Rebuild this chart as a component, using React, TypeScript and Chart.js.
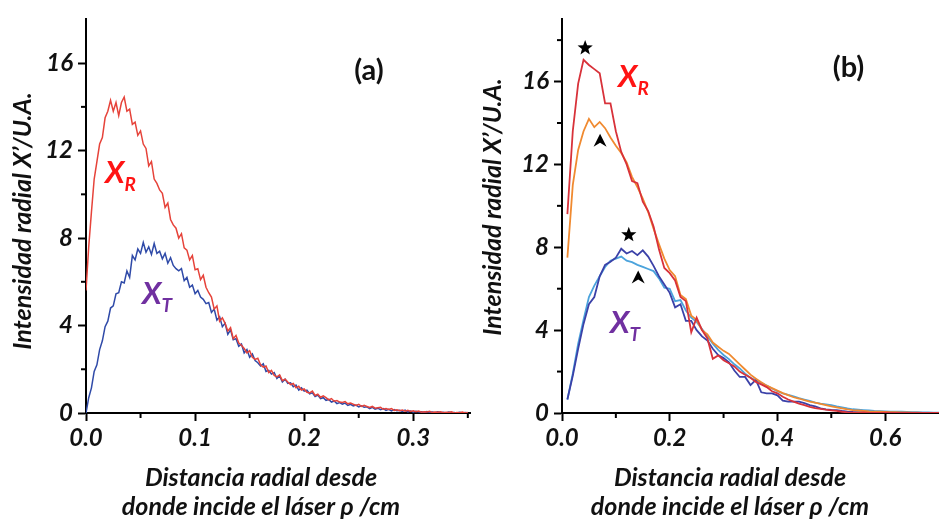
import { useEffect, useRef } from "react";
import { Chart, registerables } from "chart.js";

Chart.register(...registerables);

const FONT = "Lato, 'Open Sans', 'DejaVu Sans', sans-serif";

// ---------- Panel (a): radial intensity, fine sampling ----------
const RHO_A_START = 0;
const RHO_A_STEP = 0.0025;
const XR_A = [
  5.6, 7.6, 9.2, 10.7, 11.5, 12.3, 12.6, 13.5, 13.8, 14.3,
  13.8, 14.2, 13.6, 14.2, 14.45, 13.8, 13.9, 13.2, 13.3, 12.7,
  12.9, 12.3, 12.1, 11.3, 11.5, 10.7, 10.5, 10.2, 10.05, 9.4,
  9.6, 8.85, 8.6, 8.45, 8.0, 8.2, 7.55, 7.45, 7.0, 7.2,
  6.55, 6.6, 6.1, 6.3, 5.75, 5.5, 5.3, 4.75, 4.9, 4.2,
  4.35, 4.1, 3.75, 3.9, 3.4, 3.55, 3.2, 3.1, 2.95, 2.75,
  2.85, 2.55, 2.45, 2.5, 2.2, 2.1, 2.15, 1.85, 1.95, 1.72,
  1.65, 1.74, 1.48, 1.55, 1.42, 1.3, 1.35, 1.15, 1.22, 1.05,
  1.1, 0.95, 0.92, 1.0, 0.8, 0.86, 0.72, 0.78, 0.7, 0.6,
  0.66, 0.54, 0.57, 0.5, 0.48, 0.52, 0.42, 0.46, 0.4, 0.35,
  0.4, 0.3, 0.35, 0.3, 0.25, 0.3, 0.22, 0.24, 0.26, 0.17,
  0.2, 0.16, 0.2, 0.12, 0.15, 0.1, 0.14, 0.08, 0.12, 0.07,
  0.1, 0.06, 0.09, 0.04, 0.06, 0.05, 0.08, 0.02, 0.05, 0.03,
  0.06, 0.01, 0.03, 0.02, 0.05, 0, 0.02, 0.01, 0.04, 0,
  0.02,
];
const XT_A = [
  0, 0.7, 1.15, 1.9, 2.2, 2.9, 3.3, 3.95, 4.2, 4.8,
  4.9, 5.45, 5.5, 6.0, 5.95, 6.5, 6.2, 7.2, 7.0, 7.5,
  7.3, 7.8, 7.35, 7.6, 7.25, 7.75, 7.3, 7.4, 7.05, 7.3,
  6.85, 7.1, 6.75, 6.6, 6.5, 6.6, 6.05, 6.2, 5.75, 5.85,
  5.45, 5.6, 5.3, 5.2, 5.0, 5.05, 4.6, 4.75, 4.25, 4.4,
  3.95, 4.1, 3.6, 3.8, 3.35, 3.4, 3.05, 3.15, 2.75, 2.9,
  2.55, 2.7, 2.4, 2.3, 2.15, 2.25, 1.9, 1.95, 1.78, 1.85,
  1.58, 1.7, 1.42, 1.55, 1.35, 1.38, 1.2, 1.28, 1.05, 1.15,
  1.0, 1.05, 0.88, 0.92, 0.75, 0.82, 0.66, 0.7, 0.58, 0.62,
  0.5, 0.55, 0.43, 0.48, 0.4, 0.45, 0.35, 0.4, 0.32, 0.36,
  0.28, 0.33, 0.26, 0.28, 0.2, 0.26, 0.18, 0.22, 0.15, 0.2,
  0.12, 0.17, 0.1, 0.16, 0.1, 0.12, 0.07, 0.13, 0.05, 0.09,
  0.04, 0.08, 0.05, 0.06, 0.02, 0.07, 0.03, 0.05, 0.01, 0.06,
  0.01, 0.03, 0, 0.04, 0.01, 0.02, 0, 0.03, 0, 0.02,
  0.01,
];

// ---------- Panel (b): two conditions (star / arrowhead) ----------
const RHO_B_START = 0.01;
const RHO_B_STEP = 0.01;
const XR_B_STAR = [
  9.6, 13.6, 15.9, 17.05, 16.8, 16.6, 16.4, 14.95, 14.95, 13.6,
  12.6, 12.0, 11.2, 11.1, 10.2, 9.75, 9.0, 7.9, 7.0, 6.75,
  6.4, 5.6, 5.4, 3.9, 4.6, 4.0, 3.6, 2.62, 2.78, 2.55,
  2.4, 2.25, 2.0, 1.85, 1.7, 1.5, 1.38, 1.25, 1.05, 0.95,
  0.78, 0.65, 0.55, 0.45, 0.38, 0.3, 0.24, 0.2, 0.16, 0.13,
  0.1, 0.06, 0.03, 0.02, 0.0, 0.03, 0.01, 0.0, 0.0, 0.02,
  0.0, 0.01, 0.0, 0.0, 0.01, 0.0, 0.0, 0.0, 0.0, 0.0,
];
const XR_B_ARROW = [
  7.5, 11.0, 12.7, 13.6, 14.2, 13.8, 14.05, 13.75, 13.3, 12.9,
  12.55, 12.1, 11.4, 10.9, 10.35, 9.7, 8.9, 8.15, 7.45, 6.9,
  6.6, 5.7, 5.5, 4.7, 4.5, 4.0, 3.8, 3.4, 3.2, 3.0,
  2.85, 2.6, 2.35, 2.1, 1.85, 1.65, 1.48, 1.32, 1.2, 1.08,
  0.96, 0.86, 0.76, 0.7, 0.62, 0.55, 0.5, 0.44, 0.38, 0.32,
  0.27, 0.22, 0.17, 0.14, 0.12, 0.1, 0.08, 0.07, 0.06, 0.05,
  0.04, 0.04, 0.03, 0.03, 0.02, 0.02, 0.01, 0.01, 0.01, 0.0,
];
const XT_B_STAR = [
  0.65, 1.8, 3.1, 4.3, 5.25, 5.6, 6.6, 7.15, 7.3, 7.5,
  7.93, 7.7, 7.82, 7.62, 7.85, 7.55, 7.1, 6.6, 6.2, 5.8,
  5.1, 5.25, 4.45, 4.45, 4.0, 3.7, 3.5, 3.1, 2.8, 2.65,
  2.45, 2.05, 1.74, 1.74, 1.35, 1.6, 1.0, 0.95, 0.95, 0.85,
  0.6, 0.55, 0.55, 0.55, 0.48, 0.38, 0.32, 0.22, 0.18, 0.15,
  0.14, 0.1, 0.07, 0.05, 0.04, 0.03, 0.02, 0.01, 0.01, 0.03,
  0.02, 0.0, 0.01, 0.0, 0.01, 0.0, 0.0, 0.0, 0.0, 0.0,
];
const XT_B_ARROW = [
  0.65, 1.9, 3.35, 4.5, 5.6, 6.15, 6.6, 7.05, 7.35, 7.45,
  7.55, 7.35, 7.28, 7.15, 7.05, 6.95, 6.85, 6.5, 6.05, 6.0,
  5.4, 5.45, 4.95, 4.6, 4.4, 4.05, 3.7, 3.35, 3.05, 2.8,
  2.6, 2.35, 2.15, 1.9, 1.7, 1.58, 1.46, 1.32, 1.18, 1.05,
  0.95, 0.87, 0.8, 0.72, 0.65, 0.58, 0.5, 0.45, 0.42, 0.38,
  0.32, 0.27, 0.22, 0.18, 0.16, 0.14, 0.12, 0.1, 0.09, 0.08,
  0.07, 0.06, 0.06, 0.05, 0.04, 0.04, 0.03, 0.03, 0.02, 0.02,
];

// ---------- Ticks ----------
const Y_TICKS = [0, 4, 8, 12, 16];
const X_TICKS_A = [0, 0.1, 0.2, 0.3];
const X_TICKS_B = [0, 0.2, 0.4, 0.6];
const Y_MINOR_A = [2, 6, 10, 14];
const X_MINOR_A = [0.05, 0.15, 0.25, 0.35];
const Y_MINOR_B = [2, 6, 10, 14, 18];
const X_MINOR_B = [0.1, 0.3, 0.5];

const Y_TITLE = "Intensidad radial X\u2019/U.A.";
const X_TITLE_1 = "Distancia radial desde";
const X_TITLE_2 = "donde incide el l\u00e1ser \u03c1 /cm";

type Series = { values: number[]; color: string; width: number };
type Label = { main: string; sub: string; x: number; y: number; color: string };
type Marker = { kind: "star" | "arrow"; x: number; y: number };
type Panel = {
  left: number; width: number; height: number;
  yWidth: number; xHeight: number; padTop: number; padRight: number;
  xMax: number; yMax: number; start: number; step: number;
  xTicks: number[]; xMinor: number[]; yMinor: number[];
  series: Series[];
  yTitleX: number; yTitleY: number; xTitleX: number;
  tag: string; tagX: number; tagY: number;
  labels: Label[]; markers: Marker[];
};

const PANEL_A: Panel = {
  left: 0, width: 480, height: 523,
  yWidth: 86, xHeight: 110, padTop: 12, padRight: 10,
  xMax: 0.352, yMax: 18, start: RHO_A_START, step: RHO_A_STEP,
  xTicks: X_TICKS_A, xMinor: X_MINOR_A, yMinor: Y_MINOR_A,
  series: [
    { values: XR_A, color: "#e6433a", width: 1.5 },
    { values: XT_A, color: "#2f4aa8", width: 1.5 },
  ],
  yTitleX: 23, yTitleY: 221, xTitleX: 261,
  tag: "(a)", tagX: 0.2594, tagY: 15.67,
  labels: [
    { main: "X", sub: "R", x: 0.0174, y: 10.5, color: "#ff1414" },
    { main: "X", sub: "T", x: 0.0513, y: 4.97, color: "#7030a0" },
  ],
  markers: [],
};

const PANEL_B: Panel = {
  left: 470, width: 469, height: 523,
  yWidth: 92, xHeight: 110, padTop: 14, padRight: 0,
  xMax: 0.7, yMax: 19, start: RHO_B_START, step: RHO_B_STEP,
  xTicks: X_TICKS_B, xMinor: X_MINOR_B, yMinor: Y_MINOR_B,
  series: [
    { values: XR_B_STAR, color: "#d8323a", width: 1.8 },
    { values: XR_B_ARROW, color: "#f08a30", width: 1.8 },
    { values: XT_B_STAR, color: "#3b41a8", width: 1.8 },
    { values: XT_B_ARROW, color: "#4ba3dc", width: 1.8 },
  ],
  yTitleX: 493, yTitleY: 207, xTitleX: 730,
  tag: "(b)", tagX: 0.532, tagY: 16.68,
  labels: [
    { main: "X", sub: "R", x: 0.104, y: 15.73, color: "#ff1414" },
    { main: "X", sub: "T", x: 0.0892, y: 3.87, color: "#7030a0" },
  ],
  markers: [
    { kind: "star", x: 0.043, y: 17.62 },
    { kind: "arrow", x: 0.0707, y: 13.14 },
    { kind: "star", x: 0.124, y: 8.6 },
    { kind: "arrow", x: 0.1415, y: 6.54 },
  ],
};

function drawStar(ctx: CanvasRenderingContext2D, cx: number, cy: number, r: number) {
  ctx.beginPath();
  for (let i = 0; i < 10; i++) {
    const rad = i % 2 === 0 ? r : r * 0.42;
    const a = -Math.PI / 2 + (i * Math.PI) / 5;
    const px = cx + rad * Math.cos(a);
    const py = cy + rad * Math.sin(a);
    if (i === 0) ctx.moveTo(px, py);
    else ctx.lineTo(px, py);
  }
  ctx.closePath();
  ctx.fill();
}

function drawArrow(ctx: CanvasRenderingContext2D, cx: number, cy: number) {
  ctx.beginPath();
  ctx.moveTo(cx, cy - 7);
  ctx.lineTo(cx + 6.5, cy + 6);
  ctx.lineTo(cx, cy + 2);
  ctx.lineTo(cx - 6.5, cy + 6);
  ctx.closePath();
  ctx.fill();
}

function makePlugin(p: Panel) {
  return {
    id: "decor",
    afterDraw(chart: any) {
      const ctx: CanvasRenderingContext2D = chart.ctx;
      const xs = chart.scales.x;
      const ys = chart.scales.y;
      const area = chart.chartArea;
      ctx.save();
      // minor ticks
      ctx.strokeStyle = "#000";
      ctx.lineWidth = 2;
      p.xMinor.forEach((v) => {
        const px = xs.getPixelForValue(v);
        ctx.beginPath();
        ctx.moveTo(px, area.bottom);
        ctx.lineTo(px, area.bottom + 5);
        ctx.stroke();
      });
      p.yMinor.forEach((v) => {
        const py = ys.getPixelForValue(v);
        ctx.beginPath();
        ctx.moveTo(area.left - 5, py);
        ctx.lineTo(area.left, py);
        ctx.stroke();
      });
      // panel tag
      ctx.fillStyle = "#111";
      ctx.font = `bold 29px ${FONT}`;
      ctx.textAlign = "center";
      ctx.textBaseline = "middle";
      ctx.fillText(p.tag, xs.getPixelForValue(p.tagX), ys.getPixelForValue(p.tagY));
      // curve labels
      p.labels.forEach((l) => {
        const px = xs.getPixelForValue(l.x);
        const py = ys.getPixelForValue(l.y);
        ctx.fillStyle = l.color;
        ctx.textAlign = "left";
        ctx.textBaseline = "alphabetic";
        ctx.font = `italic bold 31px ${FONT}`;
        ctx.fillText(l.main, px, py);
        const w = ctx.measureText(l.main).width;
        ctx.font = `italic bold 19px ${FONT}`;
        ctx.fillText(l.sub, px + w, py + 8);
      });
      // markers
      ctx.fillStyle = "#000";
      p.markers.forEach((m) => {
        const px = xs.getPixelForValue(m.x);
        const py = ys.getPixelForValue(m.y);
        if (m.kind === "star") drawStar(ctx, px, py, 8);
        else drawArrow(ctx, px, py);
      });
      // axis titles
      ctx.fillStyle = "#111";
      ctx.font = `italic bold 25px ${FONT}`;
      ctx.textAlign = "center";
      ctx.textBaseline = "middle";
      ctx.fillText(X_TITLE_1, p.xTitleX - p.left, 478);
      ctx.fillText(X_TITLE_2, p.xTitleX - p.left, 507);
      ctx.translate(p.yTitleX - p.left, p.yTitleY);
      ctx.rotate(-Math.PI / 2);
      ctx.fillText(Y_TITLE, 0, 0);
      ctx.restore();
    },
  };
}

function makeConfig(p: Panel): any {
  const tickFont = { family: FONT, size: 24, style: "italic" as const, weight: "bold" as const };
  const grid = {
    display: true,
    drawOnChartArea: false,
    drawTicks: true,
    tickLength: 8,
    tickWidth: 2,
    tickColor: "#000",
  };
  const border = { display: true, color: "#000", width: 2 };
  return {
    type: "line",
    data: {
      datasets: p.series.map((s) => ({
        data: s.values.map((v, i) => ({ x: p.start + i * p.step, y: v })),
        borderColor: s.color,
        borderWidth: s.width,
        pointRadius: 0,
        fill: false,
        tension: 0,
      })),
    },
    options: {
      responsive: false,
      animation: false,
      layout: { padding: { top: p.padTop, right: p.padRight, left: 0, bottom: 0 } },
      plugins: { legend: { display: false }, tooltip: { enabled: false } },
      scales: {
        x: {
          type: "linear",
          min: 0,
          max: p.xMax,
          afterBuildTicks: (sc: any) => {
            sc.ticks = p.xTicks.map((v) => ({ value: v }));
          },
          afterFit: (sc: any) => {
            sc.height = p.xHeight;
          },
          ticks: {
            font: tickFont,
            color: "#111",
            padding: 3,
            maxRotation: 0,
            autoSkip: false,
            callback: (v: any) => Number(v).toFixed(1),
          },
          grid,
          border,
        },
        y: {
          type: "linear",
          min: 0,
          max: p.yMax,
          afterBuildTicks: (sc: any) => {
            sc.ticks = Y_TICKS.map((v) => ({ value: v }));
          },
          afterFit: (sc: any) => {
            sc.width = p.yWidth;
          },
          ticks: {
            font: tickFont,
            color: "#111",
            padding: 5,
            callback: (v: any) => String(Math.round(Number(v))),
          },
          grid,
          border,
        },
      },
    },
    plugins: [makePlugin(p)],
  };
}

function PanelChart({ p }: { p: Panel }) {
  const ref = useRef<HTMLCanvasElement | null>(null);
  useEffect(() => {
    if (!ref.current) return;
    const chart = new Chart(ref.current, makeConfig(p));
    return () => chart.destroy();
  }, [p]);
  return (
    <canvas
      ref={ref}
      width={p.width}
      height={p.height}
      style={{ position: "absolute", left: p.left, top: 0, width: p.width, height: p.height }}
    />
  );
}

export default function App() {
  return (
    <div style={{ position: "absolute", left: 0, top: 0, width: 939, height: 523, background: "#fff" }}>
      <PanelChart p={PANEL_A} />
      <PanelChart p={PANEL_B} />
    </div>
  );
}
